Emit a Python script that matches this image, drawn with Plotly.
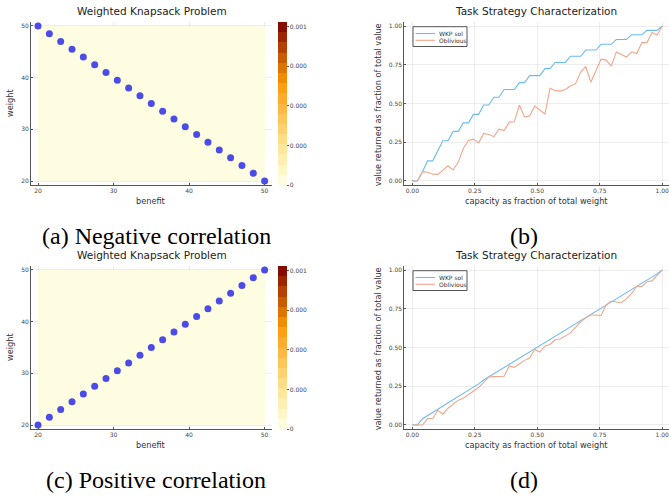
import plotly.graph_objects as go

# ---------------- data ----------------
benefit = [20.0, 21.5, 23.0, 24.5, 26.0, 27.5, 29.0, 30.5, 32.0, 33.5, 35.0,
           36.5, 38.0, 39.5, 41.0, 42.5, 44.0, 45.5, 47.0, 48.5, 50.0]
weight_neg = [50.0, 48.5, 47.0, 45.5, 44.0, 42.5, 41.0, 39.5, 38.0, 36.5, 35.0,
              33.5, 32.0, 30.5, 29.0, 27.5, 26.0, 24.5, 23.0, 21.5, 20.0]
weight_pos = [20.0, 21.5, 23.0, 24.5, 26.0, 27.5, 29.0, 30.5, 32.0, 33.5, 35.0,
              36.5, 38.0, 39.5, 41.0, 42.5, 44.0, 45.5, 47.0, 48.5, 50.0]

capacity = [0.0, 0.0204, 0.0408, 0.0612, 0.0816, 0.102, 0.1224, 0.1429, 0.1633, 0.1837,
            0.2041, 0.2245, 0.2449, 0.2653, 0.2857, 0.3061, 0.3265, 0.3469, 0.3673, 0.3878,
            0.4082, 0.4286, 0.449, 0.4694, 0.4898, 0.5102, 0.5306, 0.551, 0.5714, 0.5918,
            0.6122, 0.6327, 0.6531, 0.6735, 0.6939, 0.7143, 0.7347, 0.7551, 0.7755, 0.7959,
            0.8163, 0.8367, 0.8571, 0.8776, 0.898, 0.9184, 0.9388, 0.9592, 0.9796, 1.0]

wkp_neg = [0.0, 0.0, 0.06, 0.13, 0.13, 0.195, 0.26, 0.26, 0.32, 0.32,
           0.375, 0.375, 0.43, 0.43, 0.49, 0.49, 0.54, 0.54, 0.59, 0.59,
           0.59, 0.635, 0.635, 0.68, 0.68, 0.68, 0.725, 0.725, 0.765, 0.765,
           0.765, 0.805, 0.805, 0.805, 0.845, 0.845, 0.845, 0.882, 0.882, 0.882,
           0.913, 0.913, 0.913, 0.944, 0.944, 0.944, 0.972, 0.972, 0.972, 1.0]
obl_neg = [0.0, 0.0, 0.06, 0.056, 0.044, 0.042, 0.07, 0.098, 0.071, 0.122,
           0.21, 0.262, 0.27, 0.246, 0.307, 0.3, 0.286, 0.334, 0.325, 0.38,
           0.382, 0.49, 0.413, 0.42, 0.483, 0.457, 0.432, 0.598, 0.583, 0.58,
           0.59, 0.613, 0.628, 0.703, 0.738, 0.637, 0.714, 0.786, 0.78, 0.741,
           0.833, 0.816, 0.8, 0.834, 0.823, 0.893, 0.893, 0.958, 0.942, 1.0]

wkp_pos = [0.0, 0.0, 0.04, 0.06, 0.08, 0.10, 0.12, 0.14, 0.165, 0.185,
           0.205, 0.225, 0.245, 0.265, 0.29, 0.31, 0.33, 0.35, 0.37, 0.39,
           0.41, 0.43, 0.45, 0.47, 0.49, 0.51, 0.53, 0.55, 0.575, 0.595,
           0.615, 0.635, 0.655, 0.675, 0.695, 0.715, 0.735, 0.755, 0.775, 0.795,
           0.815, 0.835, 0.855, 0.875, 0.895, 0.915, 0.935, 0.955, 0.975, 1.0]
obl_pos = [0.0, 0.0, 0.0, 0.043, 0.04, 0.095, 0.07, 0.108, 0.135, 0.16,
           0.172, 0.194, 0.215, 0.242, 0.275, 0.31, 0.312, 0.312, 0.314, 0.381,
           0.372, 0.395, 0.417, 0.432, 0.487, 0.471, 0.51, 0.52, 0.55, 0.555,
           0.572, 0.594, 0.63, 0.667, 0.69, 0.71, 0.71, 0.705, 0.776, 0.8,
           0.794, 0.789, 0.815, 0.85, 0.894, 0.894, 0.925, 0.93, 0.967, 1.0]

series_names = ["WKP sol", "Oblivious"]
xticks_a = [20, 30, 40, 50]
yticks_a = [20, 30, 40, 50]
ticks_b = [0.0, 0.25, 0.5, 0.75, 1.0]
cbar_vals = [0, 0.00025, 0.0005, 0.00075, 0.001]
cbar_text = ["0", "0.000", "0.000", "0.000", "0.001"]

# ---------------- style ----------------
W, H = 669, 497
SANS = "DejaVu Sans"
SERIF = "Liberation Serif"
DOT = "#4b4be8"
BLUE = "#6cbaf2"
ORANGE = "#f1a68c"
GRID = "rgba(0,0,0,0.07)"
AX = "#555555"

band_colors = ["#fffde1", "#fff6c9", "#ffefb2", "#ffe79b", "#ffdd85", "#ffd26f",
               "#ffc659", "#ffb944", "#ffab2e", "#ffa014", "#f08c00", "#de7400",
               "#c95c00", "#b34000", "#9c2400", "#860c00"]
n = len(band_colors)
cscale = []
for i, c in enumerate(band_colors):
    cscale.append([i / n, c])
    cscale.append([(i + 1) / n, c])

def px(x):
    return x / W

def py(y):
    return 1 - y / H

fig = go.Figure()

panels = [
    dict(xref="x", yref="y", wy=weight_neg, top=0),
    dict(xref="x3", yref="y3", wy=weight_pos, top=244),
]
for p in panels:
    fig.add_trace(go.Heatmap(
        x=[20, 50], y=[20, 50], z=[[0]], zmin=0, zmax=0.00103,
        colorscale=cscale, xaxis=p["xref"], yaxis=p["yref"],
        hoverinfo="skip",
        colorbar=dict(
            x=px(278), xanchor="left", xpad=0, ypad=0,
            y=py(185 + p["top"]), yanchor="bottom",
            len=163 / H, lenmode="fraction", thickness=9,
            outlinewidth=0, tickvals=cbar_vals, ticktext=cbar_text,
            ticks="outside", ticklen=2, tickcolor=AX,
            tickfont=dict(family=SANS, size=6, color="#444"),
        ),
    ))
    fig.add_trace(go.Scatter(
        x=benefit, y=p["wy"], mode="markers", xaxis=p["xref"], yaxis=p["yref"],
        marker=dict(size=7, color=DOT, line=dict(width=0)), showlegend=False,
    ))

line_panels = [
    dict(xref="x2", yref="y2", wkp=wkp_neg, obl=obl_neg, top=0),
    dict(xref="x4", yref="y4", wkp=wkp_pos, obl=obl_pos, top=244),
]
for p in line_panels:
    fig.add_trace(go.Scatter(
        x=capacity, y=p["wkp"], mode="lines", name=series_names[0],
        line=dict(color=BLUE, width=1.1), xaxis=p["xref"], yaxis=p["yref"],
        showlegend=False,
    ))
    fig.add_trace(go.Scatter(
        x=capacity, y=p["obl"], mode="lines", name=series_names[1],
        line=dict(color=ORANGE, width=1.1), xaxis=p["xref"], yaxis=p["yref"],
        showlegend=False,
    ))

axis_common = dict(
    showline=True, linecolor=AX, linewidth=1, mirror=False,
    showgrid=True, gridcolor=GRID, gridwidth=1, zeroline=False,
    ticks="inside", ticklen=2, tickcolor=AX, ticklabeloverflow="allow",
    tickfont=dict(family=SANS, size=6, color="#444"),
)

left_dom = [px(31), px(272)]
right_dom = [px(404.3), px(668.5)]
top_dom = [py(185), py(21.7)]
bot_dom = [py(429), py(265.7)]

fig.update_layout(
    width=W, height=H, autosize=False,
    margin=dict(l=0, r=0, t=0, b=0),
    paper_bgcolor="white", plot_bgcolor="white",
    showlegend=False,
    xaxis=dict(domain=left_dom, range=[19.07, 50.98], tickvals=xticks_a, anchor="y", **axis_common),
    yaxis=dict(domain=top_dom, range=[19.23, 50.83], tickvals=yticks_a, anchor="x", **axis_common),
    xaxis2=dict(domain=right_dom, range=[-0.032, 1.025], tickvals=ticks_b, tickformat=".2f", anchor="y2", **axis_common),
    yaxis2=dict(domain=top_dom, range=[-0.026, 1.028], tickvals=ticks_b, tickformat=".2f", anchor="x2", **axis_common),
    xaxis3=dict(domain=left_dom, range=[19.07, 50.98], tickvals=xticks_a, anchor="y3", **axis_common),
    yaxis3=dict(domain=bot_dom, range=[19.23, 50.83], tickvals=yticks_a, anchor="x3", **axis_common),
    xaxis4=dict(domain=right_dom, range=[-0.032, 1.025], tickvals=ticks_b, tickformat=".2f", anchor="y4", **axis_common),
    yaxis4=dict(domain=bot_dom, range=[-0.026, 1.028], tickvals=ticks_b, tickformat=".2f", anchor="x4", **axis_common),
)

annotations = []
shapes = []

def text(x, y, s, size, family=SANS, angle=0, color="#222", anchor="center"):
    annotations.append(dict(
        x=px(x), y=py(y), xref="paper", yref="paper", text=s, showarrow=False,
        xanchor=anchor, yanchor="middle", textangle=angle,
        font=dict(family=family, size=size, color=color),
    ))

for dy in (0, 244):
    text(151.5, 11 + dy, "Weighted Knapsack Problem", 10.5)
    text(536, 11 + dy, "Task Strategy Characterization", 10.5)
    text(151, 201 + dy, "benefit", 8.2, color="#333")
    text(536, 201 + dy, "capacity as fraction of total weight", 8.2, color="#333")
    text(10, 103 + dy, "weight", 8.2, angle=-90, color="#333")
    text(378.3, 105 + dy, "value returned as fraction of total value", 8.2, angle=-90, color="#333")

    # legend box (drawn in paper coordinates)
    shapes.append(dict(type="rect", xref="paper", yref="paper",
                       x0=px(413), x1=px(467), y0=py(46.5 + dy), y1=py(26.7 + dy),
                       line=dict(color=AX, width=1), fillcolor="white", layer="above"))
    for k, (col, ly) in enumerate([(BLUE, 33.5), (ORANGE, 40.3)]):
        shapes.append(dict(type="line", xref="paper", yref="paper",
                           x0=px(415.5), x1=px(435), y0=py(ly + dy), y1=py(ly + dy),
                           line=dict(color=col, width=1.1), layer="above"))
        text(437, ly + dy, series_names[k], 6, color="#333", anchor="left")

text(156, 236, "(a) Negative correlation", 24, family=SERIF, color="black")
text(524, 236, "(b)", 24, family=SERIF, color="black")
text(156, 480, "(c) Positive correlation", 24, family=SERIF, color="black")
text(524, 480, "(d)", 24, family=SERIF, color="black")

fig.update_layout(annotations=annotations, shapes=shapes)

fig.write_html("out.html", config={"displayModeBar": False},
               post_script="document.body.style.margin='0px';document.body.style.padding='0px';")
